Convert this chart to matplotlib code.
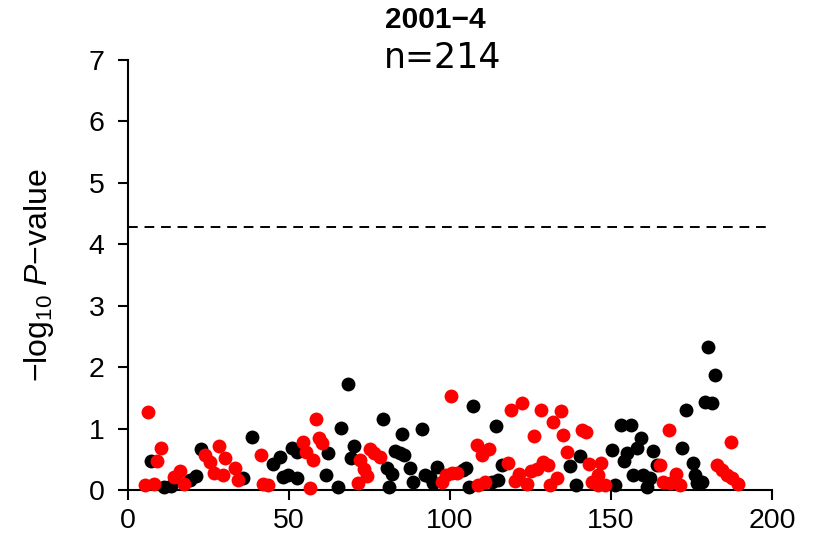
import numpy as np
import matplotlib.pyplot as plt

# position / -log10 p for the two alternating groups
red_pos = [5.3, 6.2, 8.1, 9.0, 10.2, 14.3, 16.1, 17.4, 23.9, 25.5, 26.7, 28.3,
           29.5, 30.0, 33.2, 34.2, 41.3, 41.9, 43.5, 54.3, 55.3, 56.5, 57.4,
           58.3, 59.3, 60.2, 71.4, 72.0, 73.4, 74.2, 75.2, 76.4, 78.3, 97.5,
           98.8, 100.3, 100.6, 102.2, 108.4, 108.6, 109.9, 110.8, 112.1, 118.0,
           119.0, 120.2, 121.4, 122.4, 123.9, 125.2, 126.1, 127.0, 128.3, 128.9,
           130.4, 131.0, 132.0, 133.2, 134.5, 135.1, 136.3, 141.0, 142.2, 143.2,
           144.1, 146.0, 146.0, 146.9, 148.1, 165.2, 166.1, 168.0, 168.3, 170.2,
           171.4, 182.9, 184.5, 186.0, 187.3, 187.6, 189.4]
red_logp = [0.08, 1.27, 0.10, 0.47, 0.68, 0.21, 0.31, 0.10, 0.57, 0.46, 0.27, 0.72,
            0.25, 0.52, 0.36, 0.16, 0.57, 0.10, 0.08, 0.78, 0.62, 0.03, 0.49,
            1.15, 0.85, 0.77, 0.12, 0.49, 0.34, 0.23, 0.67, 0.60, 0.54, 0.13,
            0.24, 1.53, 0.28, 0.28, 0.73, 0.08, 0.57, 0.13, 0.67, 0.44,
            1.31, 0.15, 0.26, 1.42, 0.10, 0.31, 0.88, 0.34, 1.31, 0.46,
            0.41, 0.08, 1.11, 0.20, 1.29, 0.89, 0.62, 0.97, 0.95, 0.42,
            0.13, 0.24, 0.08, 0.44, 0.08, 0.41, 0.13, 0.97, 0.11, 0.26,
            0.08, 0.41, 0.33, 0.25, 0.78, 0.19, 0.10]

black_pos = [7.1, 11.2, 13.4, 19.3, 21.1, 22.7, 35.8, 38.5, 45.1, 47.2, 48.2, 49.7,
             50.9, 52.5, 52.5, 61.5, 62.1, 65.1, 66.1, 68.3, 69.3, 70.2, 79.2,
             80.4, 81.0, 82.0, 82.9, 84.5, 85.1, 85.7, 87.6, 88.5, 91.3, 92.2,
             93.8, 94.7, 96.0, 104.0, 105.0, 106.0, 107.1, 113.0, 114.3, 115.0,
             116.1, 137.3, 139.1, 140.4, 150.3, 151.2, 153.1, 154.0, 155.0, 156.2,
             156.9, 158.1, 159.3, 160.0, 161.2, 162.1, 163.0, 164.2, 172.0, 173.3,
             175.4, 176.1, 176.7, 178.3, 179.2, 180.1, 181.4, 182.3]
black_logp = [0.47, 0.05, 0.07, 0.16, 0.23, 0.67, 0.20, 0.86, 0.42, 0.54, 0.21, 0.24,
              0.68, 0.20, 0.62, 0.24, 0.60, 0.05, 1.01, 1.73, 0.52, 0.72, 1.16,
              0.36, 0.05, 0.26, 0.63, 0.60, 0.91, 0.57, 0.36, 0.13, 1.00, 0.24,
              0.21, 0.11, 0.37, 0.33, 0.36, 0.05, 1.36, 0.13, 1.04, 0.16,
              0.41, 0.39, 0.08, 0.55, 0.65, 0.08, 1.06, 0.47, 0.60, 1.06,
              0.24, 0.68, 0.85, 0.24, 0.05, 0.20, 0.63, 0.41, 0.68, 1.30,
              0.44, 0.24, 0.11, 0.13, 1.43, 2.33, 1.42, 1.87]

threshold = 4.28
panel = '2001\u22124'
n_label = 'n=214'

plt.rcParams['mathtext.fontset'] = 'custom'
plt.rcParams['mathtext.rm'] = 'Liberation Sans'
plt.rcParams['mathtext.it'] = 'Liberation Sans:italic'

fig = plt.figure(figsize=(8.19, 5.4), dpi=100)
ax = fig.add_axes([0.1563, 0.0926, 0.7863, 0.7963])

ax.scatter(black_pos, black_logp, s=100, color='black', linewidths=0, clip_on=False, zorder=3)
ax.scatter(red_pos, red_logp, s=100, color='red', linewidths=0, clip_on=False, zorder=3)

ax.axhline(threshold, xmax=0.99, color='black', linestyle=(0, (5, 3.5)), linewidth=1.4)

ax.set_xlim(0, 200)
ax.set_ylim(0, 7)
ax.set_xticks([0, 50, 100, 150, 200])
ax.set_yticks(range(0, 8))

for side in ['top', 'right']:
    ax.spines[side].set_visible(False)
for side in ['left', 'bottom']:
    ax.spines[side].set_linewidth(1.5)

ax.tick_params(direction='out', length=7, width=1.5)
ax.tick_params(axis='y', pad=10)
ax.tick_params(axis='x', pad=6)
for lab in ax.get_xticklabels() + ax.get_yticklabels():
    lab.set_fontfamily('Liberation Sans')
    lab.set_fontsize(20.5)

ax.set_ylabel(r'$\mathrm{-log_{10}}\ \mathit{P}\mathrm{-value}$', fontsize=23)
ax.yaxis.set_label_coords(-0.112, 0.5)

fig.text(0.531, 0.963, panel, ha='center', va='center', fontsize=21.5,
         fontweight='bold', family='Liberation Sans')
fig.text(0.541, 0.893, n_label, ha='center', va='center', fontsize=25,
         family='DejaVu Sans')

fig.savefig('out.png', dpi=100)
